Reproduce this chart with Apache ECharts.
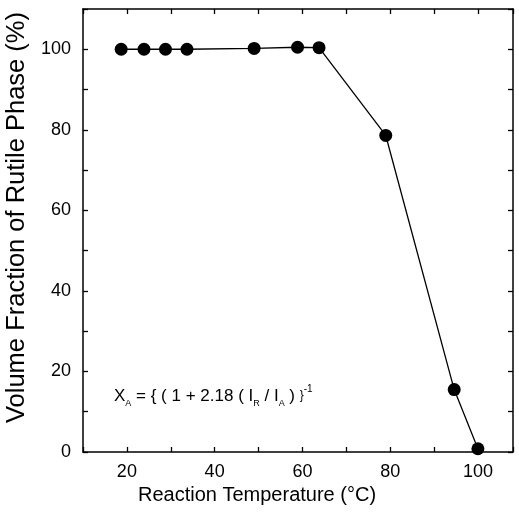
<!DOCTYPE html>
<html>
<head>
<meta charset="utf-8">
<script src="https://cdn.jsdelivr.net/npm/echarts@6/dist/echarts.min.js"></script>
<style>
html,body{margin:0;padding:0;background:#fff;}
#chart{width:519px;height:530px;}
</style>
</head>
<body>
<div id="chart"></div>
<script>
// Data
var temperatures = [18.7, 23.9, 28.8, 33.7, 49.0, 58.9, 63.8, 79.0, 94.6, 100.0];
var rutileFraction = [100.0, 100.0, 100.0, 100.0, 100.2, 100.5, 100.4, 78.6, 15.5, 0.8];
var xTickLabels = [20, 40, 60, 80, 100];
var yTickLabels = [0, 20, 40, 60, 80, 100];
var xTitle = 'Reaction Temperature (\u00B0C)';
var yTitle = 'Volume Fraction of Rutile Phase (%)';

var FONT = 'Arial, "Liberation Sans", sans-serif';
var chart = echarts.init(document.getElementById('chart'), null, {renderer: 'canvas'});

var points = temperatures.map(function (t, i) { return [t, rutileFraction[i]]; });

var axisLine = {show: true, onZero: false, lineStyle: {color: '#000', width: 1.5}};
var tick = {show: true, inside: true, length: 5, lineStyle: {color: '#000', width: 1.3}};

chart.setOption({
  animation: false,
  backgroundColor: '#fff',
  grid: {left: 83, right: 6, top: 9, bottom: 78, show: false, containLabel: false, outerBoundsMode: 'none'},
  xAxis: [{
    type: 'value', min: 10, max: 108, interval: 10,
    axisLine: axisLine, axisTick: tick, splitLine: {show: false},
    axisLabel: {
      margin: 11, color: '#000', fontFamily: FONT, fontSize: 18,
      formatter: function (v) { return xTickLabels.indexOf(v) >= 0 ? String(v) : ''; }
    },
    name: xTitle, nameLocation: 'middle', nameGap: 27,
    nameTextStyle: {color: '#000', fontFamily: FONT, fontSize: 20, padding: [0, 82, 0, 0]}
  }, {
    type: 'value', position: 'top', min: 10, max: 108, interval: 10,
    axisLine: axisLine, axisTick: tick, axisLabel: {show: false}, splitLine: {show: false}
  }],
  yAxis: [{
    type: 'value', min: 0, max: 110, interval: 10,
    axisLine: axisLine, axisTick: tick, splitLine: {show: false},
    axisLabel: {
      margin: 12, color: '#000', fontFamily: FONT, fontSize: 18,
      formatter: function (v) { return yTickLabels.indexOf(v) >= 0 ? String(v) : ''; }
    },
    name: yTitle, nameLocation: 'middle', nameGap: 52,
    nameTextStyle: {color: '#000', fontFamily: FONT, fontSize: 25.5, padding: [0, 0, 0, 26]}
  }, {
    type: 'value', position: 'right', min: 0, max: 110, interval: 10,
    axisLine: axisLine, axisTick: tick, axisLabel: {show: false}, splitLine: {show: false}
  }],
  series: [{
    type: 'line',
    data: points,
    symbol: 'circle', symbolSize: 13,
    itemStyle: {color: '#000'},
    lineStyle: {color: '#000', width: 1.3}
  }],
  graphic: [{
    type: 'text', left: 114, top: 384,
    style: {
      text: '{m|X}{s|A}{m| = { ( 1 + 2.18 ( I}{s|R}{m| / I}{s|A}{m| ) }}{p|-1}',
      rich: {
        m: {fontFamily: FONT, fontSize: 17, fill: '#000', lineHeight: 24, verticalAlign: 'middle'},
        s: {fontFamily: FONT, fontSize: 9, fill: '#000', lineHeight: 9, verticalAlign: 'bottom'},
        p: {fontFamily: FONT, fontSize: 10, fill: '#000', lineHeight: 10, verticalAlign: 'top'}
      }
    }
  }]
});
</script>
</body>
</html>
